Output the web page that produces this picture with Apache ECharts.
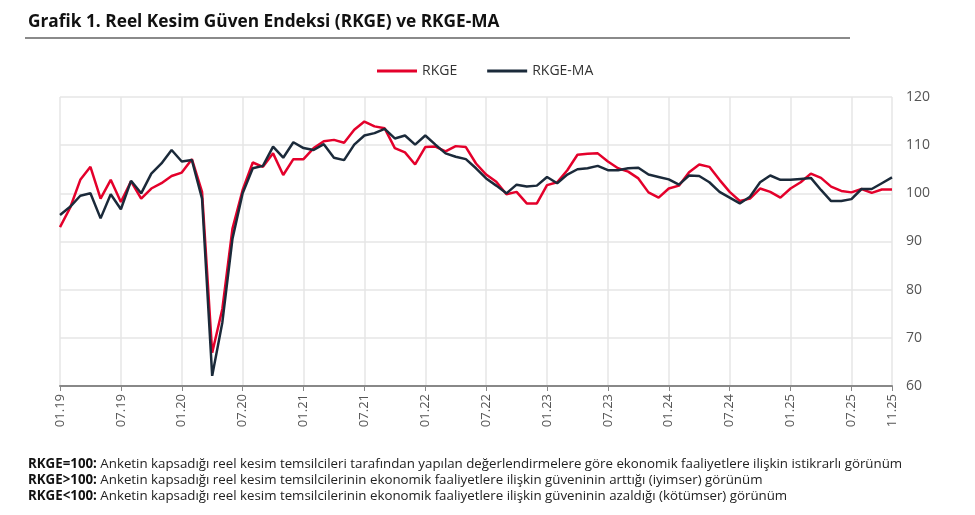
<!DOCTYPE html>
<html><head><meta charset="utf-8">
<script src="https://cdn.jsdelivr.net/npm/echarts@6/dist/echarts.min.js"></script>
<style>html,body{margin:0;padding:0;background:#fff}#c{width:975px;height:515px}</style>
</head><body><div id="c"></div>
<script>
// Months 01.19 .. 11.25
const years = ['19','20','21','22','23','24','25'];
const categories = [];
years.forEach(y => { for (let m = 1; m <= 12; m++) { if (y === '25' && m > 11) break; categories.push((m < 10 ? '0' + m : '' + m) + '.' + y); } });

const rkge = [
 93.0, 97.0, 102.8, 105.5, 98.9, 102.8, 98.2, 102.5, 98.9, 101.0, 102.1, 103.6,
 104.3, 107.1, 100.3, 66.9, 76.0, 92.7, 100.7, 106.4, 105.5, 108.3, 103.8, 107.1,
 107.1, 109.4, 110.8, 111.1, 110.5, 113.2, 114.9, 113.9, 113.5, 109.4, 108.5, 106.0,
 109.6, 109.7, 108.7, 109.8, 109.6, 106.2, 103.9, 102.4, 99.8, 100.3, 97.9, 97.9,
 101.7, 102.3, 104.8, 108.0, 108.2, 108.3, 106.6, 105.2, 104.5, 103.1, 100.2, 99.1,
 101.0, 101.6, 104.4, 106.0, 105.5, 102.8, 100.3, 98.4, 98.9, 101.0, 100.3, 99.1,
 101.0, 102.3, 104.1, 103.2, 101.4, 100.5, 100.2, 100.9, 100.1, 100.8, 100.8
];
const rkgeMA = [
 95.5, 97.2, 99.5, 100.0, 94.8, 99.8, 96.7, 102.6, 100.0, 104.1, 106.2, 109.0,
 106.6, 106.9, 98.9, 62.1, 73.2, 90.6, 100.0, 105.2, 105.7, 109.7, 107.4, 110.6,
 109.4, 109.0, 110.2, 107.4, 106.9, 110.1, 112.0, 112.5, 113.4, 111.4, 112.0, 110.1,
 112.0, 110.1, 108.3, 107.6, 107.1, 105.2, 103.1, 101.6, 100.0, 101.8, 101.4, 101.6,
 103.4, 102.1, 103.9, 105.0, 105.2, 105.7, 104.8, 104.8, 105.2, 105.3, 103.9, 103.4,
 102.9, 101.8, 103.7, 103.6, 102.3, 100.3, 99.1, 97.9, 99.3, 102.3, 103.7, 102.8,
 102.8, 103.0, 103.2, 100.7, 98.4, 98.4, 98.8, 100.9, 100.9, 102.1, 103.3
];
const yTicks = { min: 60, max: 120, interval: 10 };
const notes = [
 ['RKGE=100:', ' Anketin kapsadığı reel kesim temsilcileri tarafından yapılan değerlendirmelere göre ekonomik faaliyetlere ilişkin istikrarlı görünüm'],
 ['RKGE>100:', ' Anketin kapsadığı reel kesim temsilcilerinin ekonomik faaliyetlere ilişkin güveninin arttığı (iyimser) görünüm'],
 ['RKGE<100:', ' Anketin kapsadığı reel kesim temsilcilerinin ekonomik faaliyetlere ilişkin güveninin azaldığı (kötümser) görünüm']
];

const lastIdx = categories.length - 1;
const showIdx = (i) => i % 6 === 0 || i === lastIdx;
const FONT = '"Open Sans", sans-serif';

const chart = echarts.init(document.getElementById('c'));
chart.setOption({
  animation: false,
  textStyle: { fontFamily: FONT },
  grid: { left: 60, right: 83, top: 97, bottom: 129, containLabel: false },
  legend: {
    left: 372, top: 59, itemWidth: 40, itemHeight: 3, itemGap: 30, icon: 'rect',
    textStyle: { fontSize: 14, color: '#333', fontFamily: FONT },
    data: ['RKGE', 'RKGE-MA']
  },
  xAxis: {
    type: 'category', data: categories, boundaryGap: false,
    axisLine: { lineStyle: { color: '#888', width: 2 } },
    axisTick: { interval: (i) => showIdx(i), length: 5, lineStyle: { color: '#888' } },
    axisLabel: { interval: (i) => showIdx(i), rotate: 90, color: '#555', fontSize: 13, margin: 8, fontFamily: FONT },
    splitLine: { show: true, interval: (i) => showIdx(i), lineStyle: { color: '#e6e6e6', width: 1.5 } }
  },
  yAxis: {
    type: 'value', position: 'right', min: yTicks.min, max: yTicks.max, interval: yTicks.interval,
    axisLine: { show: false }, axisTick: { show: false },
    axisLabel: { color: '#555', fontSize: 14, margin: 14, fontFamily: FONT },
    splitLine: { lineStyle: { color: '#e6e6e6', width: 1.5 } }
  },
  series: [
    { name: 'RKGE', type: 'line', data: rkge, symbol: 'none', lineStyle: { color: '#e4002b', width: 2.5 }, itemStyle: { color: '#e4002b' } },
    { name: 'RKGE-MA', type: 'line', data: rkgeMA, symbol: 'none', lineStyle: { color: '#1b2a3a', width: 2.5 }, itemStyle: { color: '#1b2a3a' } }
  ],
  graphic: [
    { type: 'text', left: 28, top: 14, style: { text: 'Grafik 1. Reel Kesim Güven Endeksi (RKGE) ve RKGE-MA', font: 'bold 17.3px "Open Sans", sans-serif', fill: '#111' } },
    { type: 'line', shape: { x1: 25, y1: 38, x2: 850, y2: 38 }, style: { stroke: '#8a8a8a', lineWidth: 2 } }
  ].concat(notes.map((n, k) => ({
    type: 'text', left: 28, top: 458 + k * 16,
    style: {
      text: '{b|' + n[0] + '}{r|' + n[1] + '}',
      rich: {
        b: { font: 'bold 13.3px "Open Sans", sans-serif', fill: '#111' },
        r: { font: '13.3px "Open Sans", sans-serif', fill: '#222' }
      }
    }
  })))
});
</script></body></html>
